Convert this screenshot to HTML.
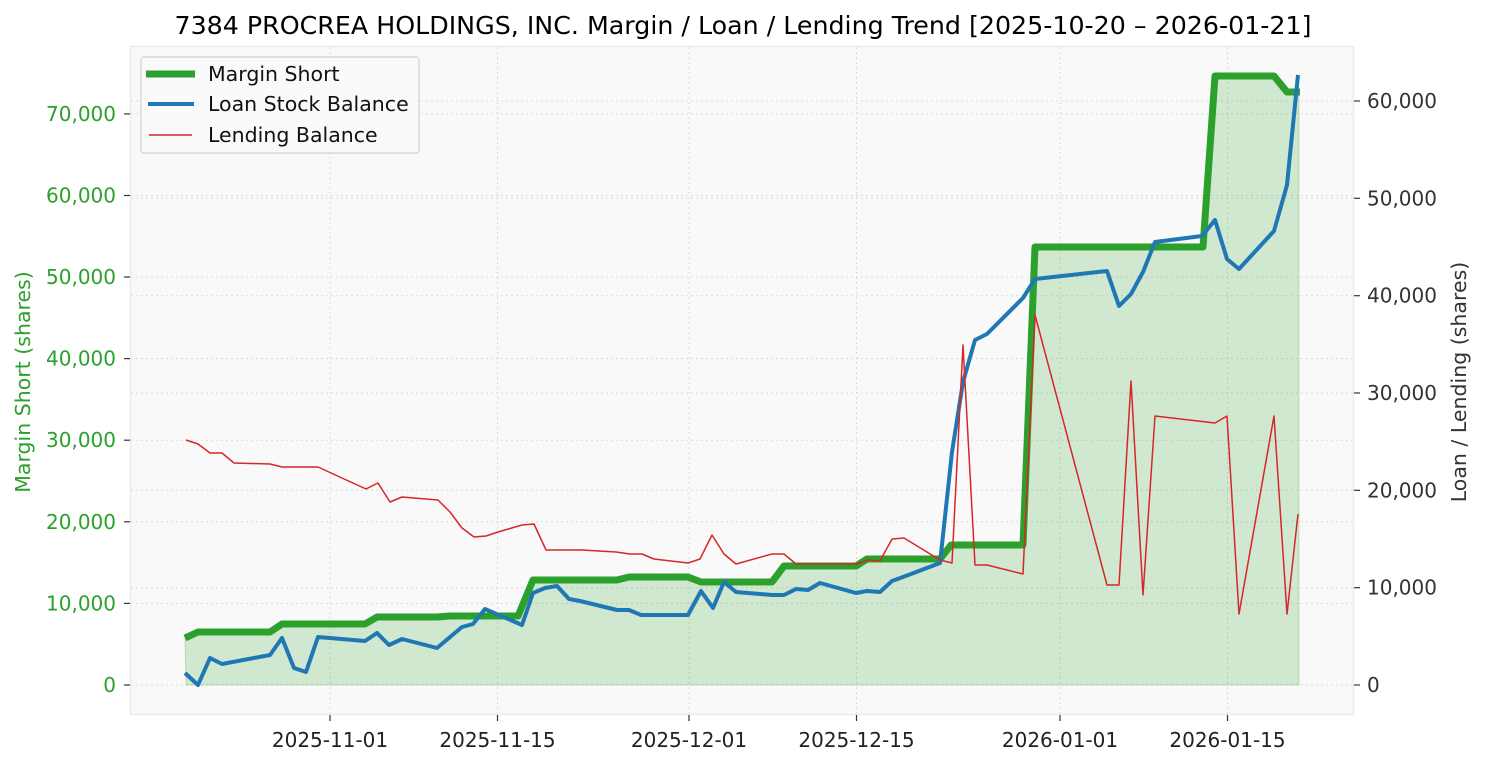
<!DOCTYPE html>
<html><head><meta charset="utf-8"><style>
html,body{margin:0;padding:0;background:#fff;}
svg{display:block;font-family:"DejaVu Sans","Liberation Sans",sans-serif;}
</style></head><body>
<svg width="1485" height="765" viewBox="0 0 1485 765" xmlns="http://www.w3.org/2000/svg">
<rect x="0" y="0" width="1485" height="765" fill="#fff"/>
<rect x="130.5" y="46.5" width="1223" height="668" fill="#f9f9f9" stroke="#ebebeb" stroke-width="1.5"/>
<g stroke="#dadada" stroke-width="1" stroke-dasharray="2,3">
<line x1="131" x2="1353" y1="685" y2="685"/><line x1="131" x2="1353" y1="603.4" y2="603.4"/><line x1="131" x2="1353" y1="521.8" y2="521.8"/><line x1="131" x2="1353" y1="440.2" y2="440.2"/><line x1="131" x2="1353" y1="358.6" y2="358.6"/><line x1="131" x2="1353" y1="277" y2="277"/><line x1="131" x2="1353" y1="195.5" y2="195.5"/><line x1="131" x2="1353" y1="113.9" y2="113.9"/>
<line x1="131" x2="1353" y1="587.7" y2="587.7"/><line x1="131" x2="1353" y1="490.3" y2="490.3"/><line x1="131" x2="1353" y1="393" y2="393"/><line x1="131" x2="1353" y1="295.7" y2="295.7"/><line x1="131" x2="1353" y1="198.3" y2="198.3"/><line x1="131" x2="1353" y1="101" y2="101"/>
<line y1="47" y2="714" x1="330" x2="330"/><line y1="47" y2="714" x1="497.5" x2="497.5"/><line y1="47" y2="714" x1="689" x2="689"/><line y1="47" y2="714" x1="856.5" x2="856.5"/><line y1="47" y2="714" x1="1060" x2="1060"/><line y1="47" y2="714" x1="1227.5" x2="1227.5"/>
</g>
<polygon fill="#2ca02c" fill-opacity="0.2" stroke="#2ca02c" stroke-opacity="0.25" points="186,685 185,638 198,632 270,632 282,624 365,624 377,617 437,617 450,616 518,616 533,580 617,580 629,577 688,577 701,582 772,582 784,566 856,566 867,559 940,559 951,545 1023,545 1035,247 1203,247 1215,76 1274,76 1287,92 1299,92 1299,685"/>
<polyline fill="none" stroke="#2ca02c" stroke-width="7" stroke-linejoin="round" points="185,638 198,632 270,632 282,624 365,624 377,617 437,617 450,616 518,616 533,580 617,580 629,577 688,577 701,582 772,582 784,566 856,566 867,559 940,559 951,545 1023,545 1035,247 1203,247 1215,76 1274,76 1287,92 1300,92"/>
<polyline fill="none" stroke="#1f77b4" stroke-width="4" stroke-linejoin="round" points="185,673 198,685 210,658 222,664 270,655 282,638 294,668 306,672 318,637 365,641 377,633 389,645 402,639 437,648 462,627 473,624 485,609 522,625 533,593 545,588 557,586 569,599 580,601 617,610 629,610 641,615 688,615 701,591 713,608 724,582 736,592 772,595 784,595 796,589 808,590 820,583 856,593 867,591 880,592 892,581 903,577 940,563 952,452 963,382 975,340 987,334 1023,298 1035,279 1107,271 1119,306 1131,294 1143,272 1155,242 1202,236 1215,220 1227,259 1239,269 1274,231 1287,185 1298,75"/>
<polyline fill="none" stroke="#d62728" stroke-width="1.5" stroke-linejoin="round" points="186,440 198,444 210,453 222,453 234,463 270,464 282,467 318,467 366,489 378,483 390,502 402,497 438,500 450,512 462,528 474,537 486,536 498,532 522,525 534,524 546,550 582,550 616,552 630,554 642,554 654,559 688,563 700,559 712,535 724,554 736,564 772,554 784,554 796,564 856,564 868,560 880,561 892,539 904,538 940,560 952,563 963,345 975,565 987,565 1023,574 1035,315 1107,585 1119,585 1131,381 1143,595 1155,416 1215,423 1227,416 1239,614 1274,416 1287,614 1298,514"/>
<g stroke="#333" stroke-width="1.2">
<line x1="124" x2="130" y1="685" y2="685"/><line x1="124" x2="130" y1="603.4" y2="603.4"/><line x1="124" x2="130" y1="521.8" y2="521.8"/><line x1="124" x2="130" y1="440.2" y2="440.2"/><line x1="124" x2="130" y1="358.6" y2="358.6"/><line x1="124" x2="130" y1="277" y2="277"/><line x1="124" x2="130" y1="195.5" y2="195.5"/><line x1="124" x2="130" y1="113.9" y2="113.9"/>
<line x1="1354" x2="1360" y1="685" y2="685"/><line x1="1354" x2="1360" y1="587.7" y2="587.7"/><line x1="1354" x2="1360" y1="490.3" y2="490.3"/><line x1="1354" x2="1360" y1="393" y2="393"/><line x1="1354" x2="1360" y1="295.7" y2="295.7"/><line x1="1354" x2="1360" y1="198.3" y2="198.3"/><line x1="1354" x2="1360" y1="101" y2="101"/>
<line y1="715" y2="721" x1="330" x2="330"/><line y1="715" y2="721" x1="497.5" x2="497.5"/><line y1="715" y2="721" x1="689" x2="689"/><line y1="715" y2="721" x1="856.5" x2="856.5"/><line y1="715" y2="721" x1="1060" x2="1060"/><line y1="715" y2="721" x1="1227.5" x2="1227.5"/>
</g>
<g fill="#2ca02c" font-size="20" text-anchor="end">
<text x="116" y="692">0</text><text x="116" y="610.4">10,000</text><text x="116" y="528.8">20,000</text><text x="116" y="447.2">30,000</text><text x="116" y="365.6">40,000</text><text x="116" y="284">50,000</text><text x="116" y="202.5">60,000</text><text x="116" y="120.9">70,000</text>
</g>
<g fill="#333" font-size="20">
<text x="1367" y="692">0</text><text x="1367" y="594.7">10,000</text><text x="1367" y="497.3">20,000</text><text x="1367" y="400">30,000</text><text x="1367" y="302.7">40,000</text><text x="1367" y="205.3">50,000</text><text x="1367" y="108">60,000</text>
</g>
<g fill="#222" font-size="20" text-anchor="middle">
<text x="330" y="747">2025-11-01</text><text x="497.5" y="747">2025-11-15</text><text x="689" y="747">2025-12-01</text><text x="856.5" y="747">2025-12-15</text><text x="1060" y="747">2026-01-01</text><text x="1227.5" y="747">2026-01-15</text>
</g>
<text transform="translate(30,382) rotate(-90)" text-anchor="middle" fill="#2ca02c" font-size="20.5">Margin Short (shares)</text>
<text transform="translate(1466,382) rotate(-90)" text-anchor="middle" fill="#333" font-size="20.5">Loan / Lending (shares)</text>
<text x="743" y="34" text-anchor="middle" font-size="25.3" fill="#000">7384 PROCREA HOLDINGS, INC. Margin / Loan / Lending Trend [2025-10-20 – 2026-01-21]</text>
<rect x="141" y="57" width="278" height="96" rx="3" fill="#f9f9f9" fill-opacity="0.9" stroke="#d0d0d0" stroke-width="1.2"/>
<line x1="146" x2="195" y1="74" y2="74" stroke="#2ca02c" stroke-width="7"/>
<line x1="148" x2="194" y1="104" y2="104" stroke="#1f77b4" stroke-width="4"/>
<line x1="149" x2="192" y1="135" y2="135" stroke="#d62728" stroke-width="1.5"/>
<g font-size="20.5" fill="#111">
<text x="208" y="81">Margin Short</text><text x="208" y="111">Loan Stock Balance</text><text x="208" y="142">Lending Balance</text>
</g>
</svg>
</body></html>
